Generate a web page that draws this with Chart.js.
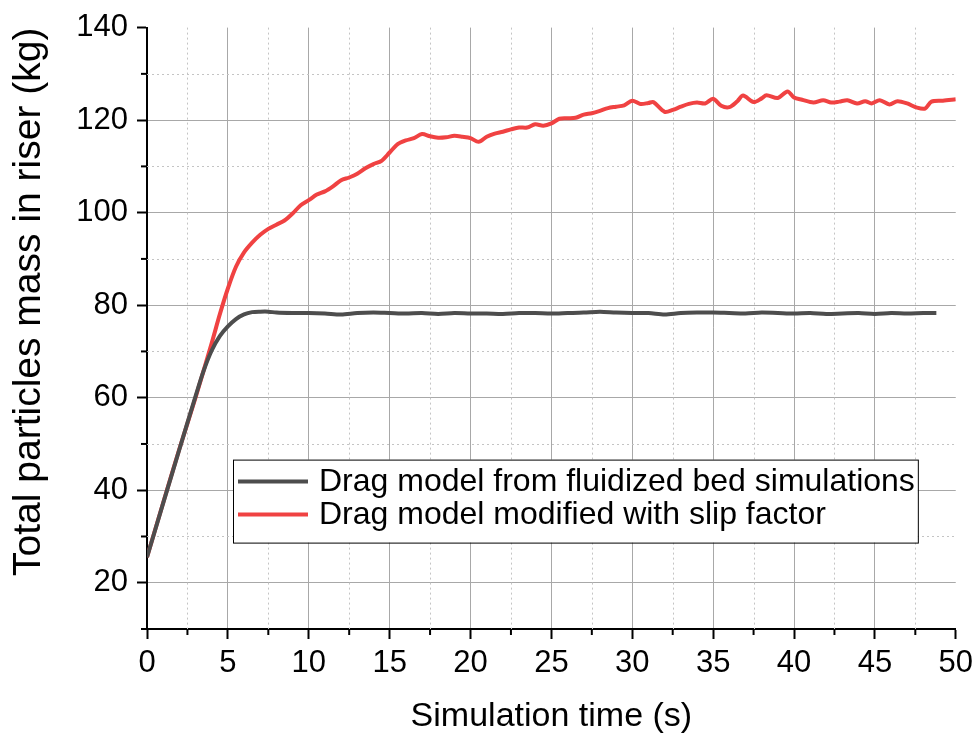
<!DOCTYPE html>
<html>
<head>
<meta charset="utf-8">
<script src="https://cdn.jsdelivr.net/npm/chart.js@4/dist/chart.umd.min.js"></script>
<style>
  body { margin: 0; background: #fff; }
  canvas { display: block; }
</style>
</head>
<body>
<canvas id="massChart" width="979" height="742"></canvas>
<script>
// series
const seriesNames = ['Drag model from fluidized bed simulations', 'Drag model modified with slip factor'];

const timeBed = [0, 1, 2, 3, 3.5, 4, 4.5, 5, 5.5, 6, 6.5, 7, 7.5, 8, 9, 10, 11, 12, 13, 14, 15, 16, 17, 18, 19, 20,
  21, 22, 23, 24, 25, 26, 27, 28, 29, 30, 31, 32, 33, 34, 35, 36, 37, 38, 39, 40, 41, 42, 43, 44, 45, 46, 47, 48, 48.8];
const massBed = [25.5, 37.2, 48.8, 60.3, 65.8, 70.2, 73.3, 75.4, 77.0, 78.0, 78.5, 78.6, 78.6, 78.4, 78.3, 78.3, 78.2, 78.0, 78.3, 78.4, 78.3, 78.2, 78.3, 78.1, 78.3, 78.2,
  78.2, 78.1, 78.3, 78.3, 78.2, 78.3, 78.4, 78.6, 78.4, 78.3, 78.3, 78.0, 78.3, 78.4, 78.4, 78.3, 78.2, 78.4, 78.3, 78.2, 78.3, 78.1, 78.2, 78.3, 78.1, 78.3, 78.2, 78.3, 78.3];

const timeSlip = [0, 1, 2, 3, 4, 4.5, 5, 5.5, 6, 6.5, 7, 7.5, 8, 8.5, 9, 9.5, 10, 10.5, 11, 11.5, 12, 12.5, 13, 13.5, 14, 14.5,
  15, 15.5, 16, 16.5, 17, 17.5, 18, 18.5, 19, 19.5, 20, 20.5, 21, 21.5, 22, 22.5, 23, 23.5, 24, 24.5, 25, 25.5, 26, 26.5,
  27, 27.5, 28, 28.5, 29, 29.5, 30, 30.5, 31, 31.3, 32, 32.5, 33, 33.5, 34, 34.5, 35, 35.5, 36, 36.5, 36.85, 37.5, 38, 38.3,
  39, 39.6, 40, 40.5, 41.2, 41.8, 42.3, 42.8, 43.3, 43.9, 44.4, 44.8, 45.3, 45.9, 46.4, 47, 47.6, 48.1, 48.5, 49.2, 50];
const massSlip = [25.5, 37.3, 48.9, 60.0, 71.8, 78.0, 83.6, 88.3, 91.4, 93.5, 95.2, 96.5, 97.4, 98.3, 99.8, 101.6, 102.7, 103.9, 104.6, 105.7, 107.0, 107.6, 108.4, 109.6, 110.5, 111.2,
  113.0, 114.8, 115.6, 116.1, 117.0, 116.5, 116.2, 116.3, 116.6, 116.4, 116.1, 115.3, 116.4, 117.1, 117.5, 118.0, 118.4, 118.4, 119.1, 118.8, 119.3, 120.3, 120.4, 120.5,
  121.2, 121.5, 122.0, 122.6, 122.9, 123.2, 124.2, 123.5, 123.7, 123.9, 121.8, 122.2, 122.9, 123.5, 123.8, 123.6, 124.6, 123.1, 122.8, 124.1, 125.3, 123.9, 124.7, 125.4,
  124.8, 126.2, 124.9, 124.4, 123.8, 124.3, 123.8, 124.0, 124.3, 123.6, 124.1, 123.6, 124.3, 123.4, 124.1, 123.6, 122.7, 122.5, 124.0, 124.2, 124.5];

const xTicks = [0, 5, 10, 15, 20, 25, 30, 35, 40, 45, 50];
const yTicks = [20, 40, 60, 80, 100, 120, 140];

const FONT = "'Liberation Sans', Arial, sans-serif";

function toPoints(xs, ys) {
  return xs.map((x, i) => ({ x: x, y: ys[i] }));
}

// dotted minor grid, short minor ticks and the boxed legend
const extras = {
  id: 'extras',
  beforeDatasetsDraw(chart) {
    const { ctx, chartArea: ca, scales: { x, y } } = chart;
    ctx.save();
    ctx.strokeStyle = '#c4c4c4';
    ctx.lineWidth = 1;
    ctx.setLineDash([2, 3]);
    x.ticks.forEach(t => {
      if (xTicks.includes(t.value)) return;
      const px = Math.round(x.getPixelForValue(t.value)) + 0.5;
      ctx.beginPath(); ctx.moveTo(px, ca.top); ctx.lineTo(px, ca.bottom); ctx.stroke();
    });
    y.ticks.forEach(t => {
      if (yTicks.includes(t.value) || t.value === 10) return;
      const py = Math.round(y.getPixelForValue(t.value)) + 0.5;
      ctx.beginPath(); ctx.moveTo(ca.left, py); ctx.lineTo(ca.right, py); ctx.stroke();
    });
    ctx.restore();
  },
  afterDraw(chart) {
    const { ctx, chartArea: ca, scales: { x, y } } = chart;
    ctx.save();
    ctx.strokeStyle = '#000';
    ctx.lineWidth = 2;
    x.ticks.forEach(t => {
      if (xTicks.includes(t.value)) return;
      const px = x.getPixelForValue(t.value);
      ctx.beginPath(); ctx.moveTo(px, ca.bottom); ctx.lineTo(px, ca.bottom + 6); ctx.stroke();
    });
    y.ticks.forEach(t => {
      if (yTicks.includes(t.value)) return;
      const py = y.getPixelForValue(t.value);
      ctx.beginPath(); ctx.moveTo(ca.left, py); ctx.lineTo(ca.left - 6, py); ctx.stroke();
    });

    // legend
    ctx.font = '32px ' + FONT;
    const ds = chart.data.datasets;
    const textW = Math.max(...ds.map(d => ctx.measureText(d.label).width));
    const bx = ca.left + 86, by = ca.top + 432;
    const bw = 86 + textW + 3, bh = 83;
    ctx.fillStyle = '#fff';
    ctx.fillRect(bx, by, bw, bh);
    ctx.lineWidth = 1;
    ctx.strokeStyle = '#000';
    ctx.strokeRect(bx + 0.5, by + 0.5, bw, bh);
    ds.forEach((d, i) => {
      const ry = by + 22 + i * 33;
      ctx.strokeStyle = d.borderColor;
      ctx.lineWidth = 4;
      ctx.beginPath(); ctx.moveTo(bx + 5, ry); ctx.lineTo(bx + 75, ry); ctx.stroke();
      ctx.fillStyle = '#000';
      ctx.textBaseline = 'middle';
      ctx.fillText(d.label, bx + 86, ry + 1);
    });
    ctx.restore();
  }
};

new Chart(document.getElementById('massChart'), {
  type: 'line',
  data: {
    datasets: [
      {
        label: seriesNames[0],
        data: toPoints(timeBed, massBed),
        borderColor: '#4d4d4d',
        borderWidth: 4,
        pointRadius: 0,
        tension: 0.3
      },
      {
        label: seriesNames[1],
        data: toPoints(timeSlip, massSlip),
        borderColor: '#f04242',
        borderWidth: 4,
        pointRadius: 0,
        tension: 0.3
      }
    ]
  },
  options: {
    responsive: false,
    animation: false,
    layout: { padding: { top: 25, right: 23, bottom: 0, left: 0 } },
    plugins: {
      legend: { display: false },
      tooltip: { enabled: false }
    },
    scales: {
      x: {
        type: 'linear',
        min: 0,
        max: 50,
        afterFit(s) { s.height = 113; },
        border: { color: '#000', width: 2 },
        grid: {
          color: c => (xTicks.includes(c.tick.value) && c.tick.value !== 0 && c.tick.value !== 50) ? '#a8a8a8' : 'rgba(0,0,0,0)',
          lineWidth: 1,
          tickLength: 10,
          tickWidth: 2,
          tickColor: c => xTicks.includes(c.tick.value) ? '#000' : 'rgba(0,0,0,0)'
        },
        ticks: {
          stepSize: 2.5,
          autoSkip: false,
          maxRotation: 0,
          padding: 6,
          color: '#000',
          font: { family: FONT, size: 31 },
          callback: v => xTicks.includes(v) ? String(v) : ''
        },
        title: {
          display: true,
          text: 'Simulation time (s)',
          color: '#000',
          font: { family: FONT, size: 34 },
          padding: { top: 0, bottom: 5 }
        }
      },
      y: {
        min: 10,
        max: 140,
        afterFit(s) { s.width = 147; },
        border: { color: '#000', width: 2 },
        grid: {
          color: c => (yTicks.includes(c.tick.value) && c.tick.value !== 140) ? '#a8a8a8' : 'rgba(0,0,0,0)',
          lineWidth: 1,
          tickLength: 10,
          tickWidth: 2,
          tickColor: c => yTicks.includes(c.tick.value) ? '#000' : 'rgba(0,0,0,0)'
        },
        ticks: {
          stepSize: 10,
          autoSkip: false,
          padding: 9,
          color: '#000',
          font: { family: FONT, size: 31 },
          callback: v => yTicks.includes(v) ? String(v) : ''
        },
        title: {
          display: true,
          align: 'end',
          text: 'Total particles mass in riser (kg)',
          color: '#000',
          font: { family: FONT, size: 39 },
          padding: { top: 6, bottom: 0 }
        }
      }
    }
  },
  plugins: [extras]
});
</script>
</body>
</html>
